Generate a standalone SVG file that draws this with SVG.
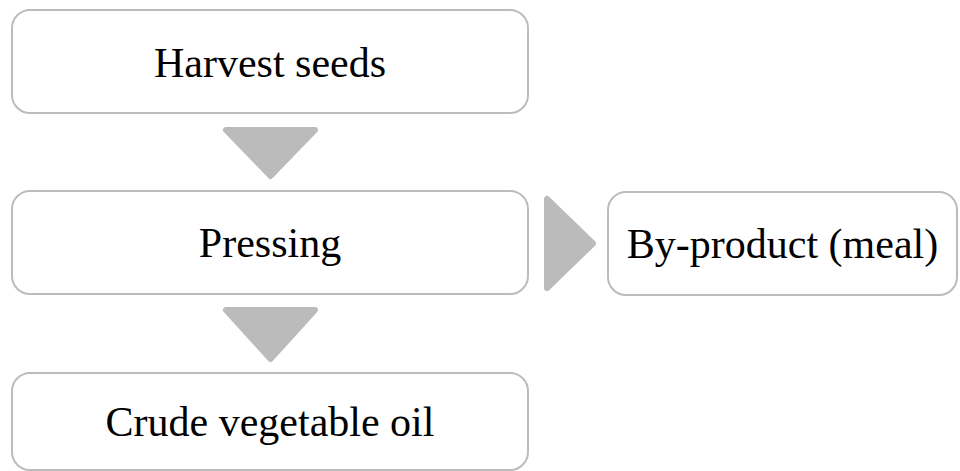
<svg xmlns="http://www.w3.org/2000/svg" width="960" height="471" viewBox="0 0 960 471">
<style>
.box{fill:#ffffff;stroke:#bcbcbc;stroke-width:2}
.lbl{font-family:"Liberation Serif","Times New Roman",serif;font-size:42px;fill:#000000;text-anchor:middle}
.arr{fill:#bbbbbb;stroke:#bbbbbb;stroke-width:6;stroke-linejoin:round}
</style>
<rect width="960" height="471" fill="#ffffff"/>
<g id="connectors">
<polygon class="arr" points="226,130 315,130 270.5,176"/>
<polygon class="arr" points="226,310 315,310 270.5,359"/>
<polygon class="arr" points="547,199 547,288 593,243.5"/>
</g>
<g id="harvest">
<rect class="box" x="12" y="10" width="516" height="103" rx="18"/>
<text class="lbl" x="270" y="77">Harvest seeds</text>
</g>
<g id="pressing">
<rect class="box" x="12" y="191" width="516" height="103" rx="18"/>
<text class="lbl" x="270" y="257">Pressing</text>
</g>
<g id="byproduct">
<rect class="box" x="608" y="192" width="349" height="103" rx="18"/>
<text class="lbl" x="782.5" y="258">By-product (meal)</text>
</g>
<g id="crude">
<rect class="box" x="12" y="373" width="516" height="97" rx="18"/>
<text class="lbl" x="270" y="436">Crude vegetable oil</text>
</g>
</svg>
